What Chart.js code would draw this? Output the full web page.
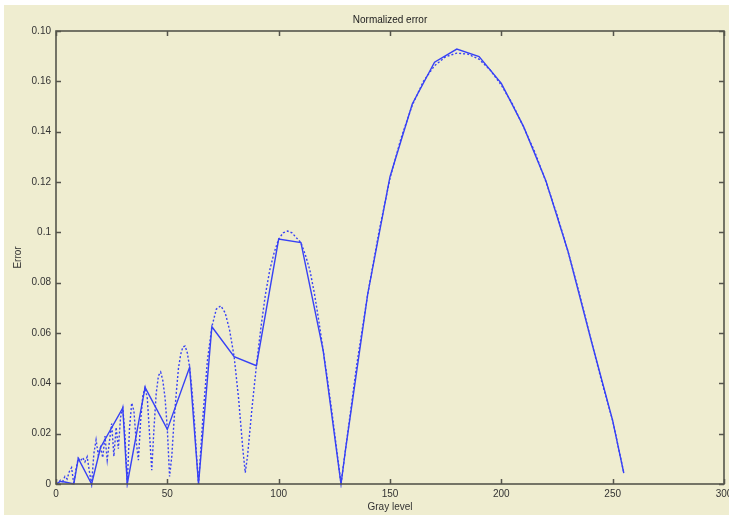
<!DOCTYPE html>
<html>
<head>
<meta charset="utf-8">
<script src="https://cdn.jsdelivr.net/npm/chart.js@4.4.1/dist/chart.umd.min.js"></script>
<style>
  html, body { margin: 0; padding: 0; background: #fff; }
  #wrap { position: absolute; left: 4px; top: 5px; width: 725px; height: 510px; background: #efedd0; }
</style>
</head>
<body>
<div id="wrap"><canvas id="chart" width="725" height="510"></canvas></div>
<script>
// solid curve: coarse samples
const solidX = [0, 2, 4, 8, 10, 16, 20, 30, 32, 40, 50, 60, 64, 70, 80, 90, 100, 110, 120, 128,
  130, 140, 150, 160, 170, 180, 190, 200, 210, 220, 230, 240, 250, 255];
const solidY = [0, 0.001, 0.0008, 0, 0.0102, 0, 0.0145, 0.0302, 0, 0.0384, 0.0217, 0.0464, 0, 0.0625, 0.0506, 0.047, 0.0973, 0.0959, 0.053, 0,
  0.0135, 0.0755, 0.1221, 0.151, 0.1676, 0.1728, 0.1698, 0.1592, 0.142, 0.1205, 0.0923, 0.0582, 0.0252, 0.0043];

// dotted curve: dense samples
const dottedX = [0, 1, 2, 3, 4, 5, 6, 7, 8, 9, 10, 11, 12, 13, 14, 15, 16, 17, 18, 19, 20,
  21, 22, 23, 24, 25, 26, 27, 28, 29, 30, 31, 32, 33, 34, 35, 36, 37, 38, 39, 40,
  41, 42, 43, 44, 45, 46, 47, 48, 49, 50, 51, 52, 53, 54, 55, 56, 57, 58, 59, 60, 61, 62, 63, 64,
  66, 68, 70, 72, 74, 76, 78, 80, 82, 84, 85, 86, 88, 90, 92, 94, 96, 98, 100,
  102, 104, 106, 108, 110, 112, 114, 116, 118, 120, 122, 124, 126, 128,
  130, 135, 140, 145, 150, 155, 160, 165, 170, 175, 180, 185, 190, 195, 200,
  205, 210, 215, 220, 225, 230, 235, 240, 245, 250, 255];
const dottedY = [0, 0.0005, 0.0015, 0.001, 0.003, 0.002, 0.005, 0.0065, 0, 0.006, 0.0102,
  0.0092, 0.0105, 0.0088, 0.0108, 0.005, 0, 0.012, 0.0175, 0.0115, 0.0145,
  0.0105, 0.019, 0.0095, 0.017, 0.024, 0.011, 0.0225, 0.014, 0.0265, 0.0302,
  0.019, 0, 0.022, 0.0322, 0.029, 0.017, 0.0095, 0.025, 0.035, 0.0384,
  0.034, 0.02, 0.0055, 0.022, 0.036, 0.043, 0.0445, 0.041, 0.034, 0.0217,
  0.003, 0.011, 0.025, 0.036, 0.046, 0.0515, 0.0545, 0.0548, 0.052, 0.0464, 0.038, 0.027, 0.013, 0,
  0.027, 0.049, 0.0625, 0.0695, 0.0708, 0.068, 0.061, 0.0506, 0.034, 0.013, 0.0045, 0.011, 0.03, 0.047, 0.062, 0.075, 0.085, 0.092, 0.0973,
  0.0998, 0.1005, 0.0998, 0.0978, 0.0959, 0.091, 0.085, 0.076, 0.065, 0.053, 0.041, 0.028, 0.014, 0,
  0.0135, 0.047, 0.0755, 0.1, 0.1215, 0.1375, 0.1505, 0.16, 0.1662, 0.1698, 0.1712, 0.1708, 0.1688, 0.1645, 0.1585,
  0.151, 0.1418, 0.132, 0.1202, 0.107, 0.0922, 0.0758, 0.0582, 0.041, 0.0252, 0.0045];

const yTickLabels = ['0', '0.02', '0.04', '0.06', '0.08', '0.1', '0.12', '0.14', '0.16', '0.10'];

const BLUE = 'rgb(55,65,245)';
const TEXT = '#333';
const FONT = 'Liberation Sans, Arial, sans-serif';

const toPoints = (xs, ys) => xs.map((x, i) => ({ x, y: ys[i] }));

// MATLAB-style box with inward tick marks on all four sides
const matlabBox = {
  id: 'matlabBox',
  afterDatasetsDraw(chart) {
    const { ctx, chartArea: a, scales: { x, y } } = chart;
    const len = 5;
    ctx.save();
    ctx.strokeStyle = '#55554c';
    ctx.lineWidth = 1.5;
    ctx.beginPath();
    x.ticks.forEach((t) => {
      const px = Math.round(x.getPixelForValue(t.value)) + 0.5;
      ctx.moveTo(px, a.bottom); ctx.lineTo(px, a.bottom - len);
      ctx.moveTo(px, a.top); ctx.lineTo(px, a.top + len);
    });
    y.ticks.forEach((t) => {
      const py = Math.round(y.getPixelForValue(t.value)) + 0.5;
      ctx.moveTo(a.left, py); ctx.lineTo(a.left + len, py);
      ctx.moveTo(a.right, py); ctx.lineTo(a.right - len, py);
    });
    ctx.stroke();
    ctx.lineWidth = 1.6;
    ctx.strokeRect(a.left, a.top, a.right - a.left, a.bottom - a.top);
    ctx.restore();
  },
};

new Chart(document.getElementById('chart'), {
  type: 'line',
  data: {
    datasets: [
      {
        label: 'solid',
        data: toPoints(solidX, solidY),
        borderColor: BLUE,
        borderWidth: 1.4,
        pointRadius: 0,
        tension: 0,
        clip: 4,
      },
      {
        label: 'dotted',
        data: toPoints(dottedX, dottedY),
        borderColor: BLUE,
        borderWidth: 1.4,
        borderDash: [2, 2],
        pointRadius: 0,
        tension: 0,
        clip: 4,
      },
    ],
  },
  options: {
    responsive: false,
    animation: false,
    layout: { padding: { left: 0, right: 5, top: 0, bottom: 0 } },
    plugins: {
      legend: { display: false },
      tooltip: { enabled: false },
      title: {
        display: true,
        text: 'Normalized error',
        color: '#222',
        fullSize: false,
        font: { family: FONT, size: 10, weight: 'normal', lineHeight: 1.2 },
        padding: { top: 9, bottom: 5 },
      },
    },
    scales: {
      x: {
        type: 'linear',
        min: 0,
        max: 300,
        grid: { display: false, drawTicks: false },
        border: { display: false },
        ticks: { stepSize: 50, color: TEXT, padding: 4, maxRotation: 0, autoSkip: false,
          font: { family: FONT, size: 10 } },
        title: { display: true, text: 'Gray level', color: TEXT,
          font: { family: FONT, size: 10, lineHeight: 1.2 }, padding: { top: 0, bottom: 2 } },
        afterFit: (s) => { s.height = 31; s.paddingLeft = 0; s.paddingRight = 0; },
      },
      y: {
        type: 'linear',
        min: 0,
        max: 0.18,
        grid: { display: false, drawTicks: false },
        border: { display: false },
        ticks: { stepSize: 0.02, color: TEXT, padding: 5, autoSkip: false,
          font: { family: FONT, size: 10 },
          callback: (v, i) => yTickLabels[i] },
        title: { display: true, text: 'Error', color: TEXT,
          font: { family: FONT, size: 10, lineHeight: 1.2 }, padding: { top: 8, bottom: 0 } },
        afterFit: (s) => { s.width = 52; s.paddingTop = 0; s.paddingBottom = 0; },
      },
    },
  },
  plugins: [matlabBox],
});
</script>
</body>
</html>
